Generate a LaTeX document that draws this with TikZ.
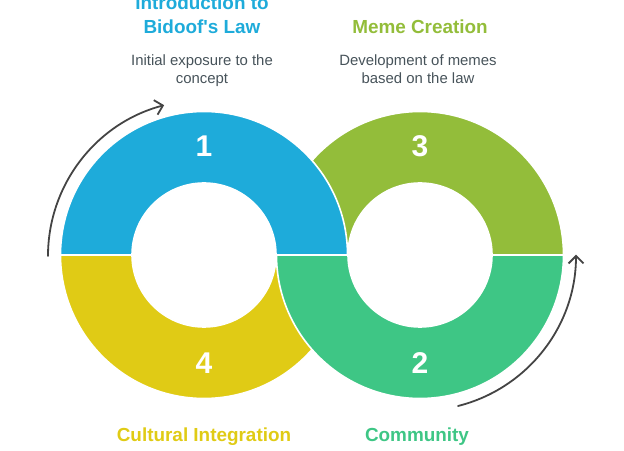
\documentclass[tikz,border=0pt]{standalone}
\usepackage{fontspec}
\setmainfont{Liberation Sans}
\newfontfamily\plainfont{Liberation Sans}
\usetikzlibrary{arrows.meta,calc}
\definecolor{cblue}{HTML}{1EABDA}
\definecolor{colive}{HTML}{93BD3A}
\definecolor{cgreen}{HTML}{3EC685}
\definecolor{cyellow}{HTML}{E0CB15}
\definecolor{ctext}{HTML}{47535A}
\definecolor{carrow}{HTML}{444444}
\tikzset{
  band/.style={draw=white,line width=1.6pt,line join=round},
  digit/.style={text=white,font=\fontsize{30}{30}\selectfont\bfseries,inner sep=0pt},
  heading/.style={font=\fontsize{18.9}{24}\selectfont\bfseries,inner sep=0pt,align=center},
  body/.style={text=ctext,font=\fontsize{14.9}{18}\selectfont,inner sep=0pt,align=center},
  turn/.style={draw=carrow,line width=1.8pt,line cap=round,-{Straight Barb[length=7.5pt,width=15pt,line width=1.8pt]}}
}
\newcommand{\halfring}[4]{% centre x, start, end, colour
  \fill[band,fill=#4] (#1,195) ++(#2:143.5) arc[start angle=#2,end angle=#3,radius=143.5]
     -- ($(#1,195)+(#3:72)$) arc[start angle=#3,end angle=#2,radius=72] -- cycle;}
\begin{document}
\begin{tikzpicture}[x=1pt,y=1pt]
\useasboundingbox (0,0) rectangle (624,450);
\clip (0,0) rectangle (624,450);
\halfring{204}{180}{360}{cyellow}
\halfring{420}{0}{180}{colive}
\halfring{204}{0}{180}{cblue}
\halfring{420}{180}{360}{cgreen}
\node[digit] (n1) at (204,303.5) {1};
\node[digit] (n3) at (420,304) {3};
\node[digit] (n4) at (204,87) {4};
\node[digit] (n2) at (420,87) {2};
\node[heading,text=cblue] (t1) at (202,435) {Introduction to\\Bidoof{\plainfont\bfseries\char39}s Law};
\node[heading,text=colive] (t3) at (420,423) {Meme Creation};
\node[heading,text=cyellow] (t4) at (204,13.5) {Cultural Integration};
\node[heading,text=cgreen] (t2) at (417,13.5) {Community};
\node[body] (b1) at (202,379.5) {Initial exposure to the\\concept};
\node[body] (b3) at (418,381) {Development of memes\\based on the law};
\coordinate (a1s) at (48,194);
\coordinate (a2s) at (458,44);
\draw[turn] (a1s) arc[start angle=180,end angle=104.8,radius=156];
\draw[turn] (a2s) arc[start angle=-75.9,end angle=0,radius=156];
\end{tikzpicture}
\end{document}
